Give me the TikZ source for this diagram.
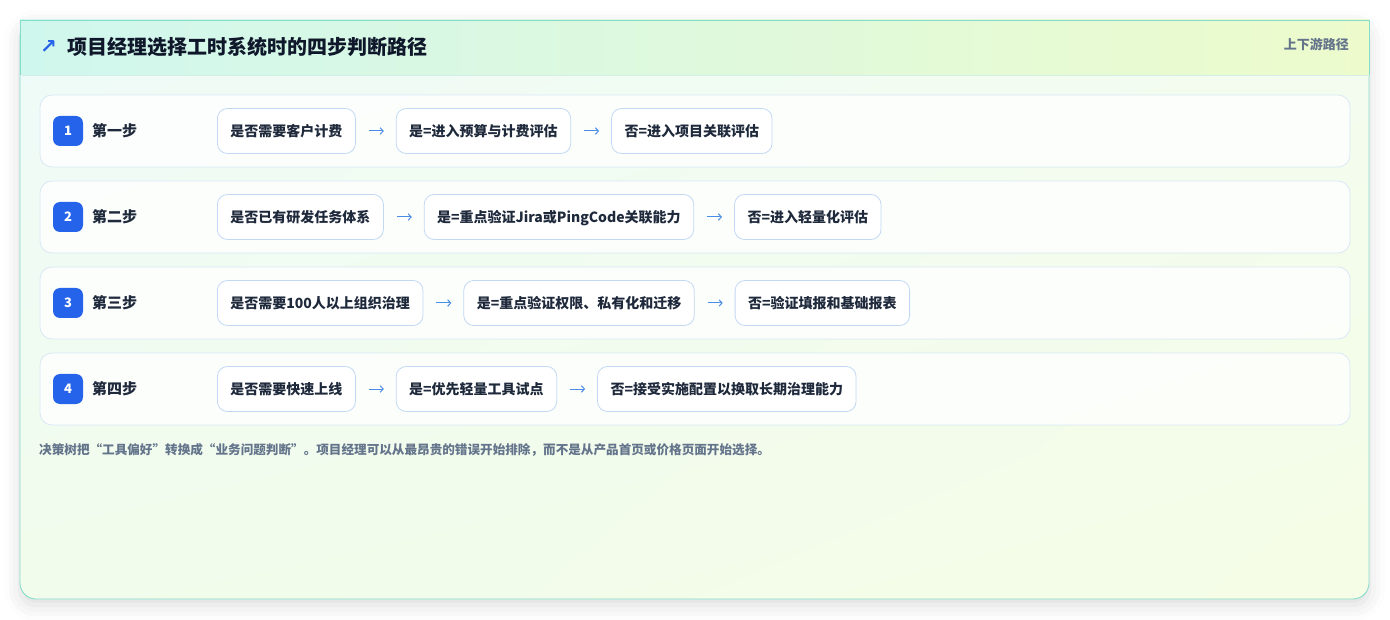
\documentclass[tikz,border=0pt]{standalone}
\usepackage{fontspec}
\setmainfont{Noto Sans CJK SC}
\newfontfamily\symfont{DejaVu Sans}
\usetikzlibrary{shadows.blur,positioning,arrows.meta,shadings}
\definecolor{cardborder}{HTML}{86DCCB}
\definecolor{hdrL}{HTML}{D0F7EE}
\definecolor{hdrR}{HTML}{EDFBCC}
\definecolor{bodyUL}{HTML}{EFFBF9}
\definecolor{bodyUR}{HTML}{F3FCEF}
\definecolor{bodyLL}{HTML}{F1FCEC}
\definecolor{bodyLR}{HTML}{F5FDE6}
\definecolor{sepline}{HTML}{D3EFE8}
\definecolor{rowborder}{HTML}{D9E8F4}
\definecolor{boxborder}{HTML}{C3D8F3}
\definecolor{badgeblue}{HTML}{2563EB}
\definecolor{arrowblue}{HTML}{4A8DE6}
\definecolor{darktext}{HTML}{0F172A}
\definecolor{boxtext}{HTML}{1E293B}
\definecolor{graytext}{HTML}{64748B}
\tikzset{
  rowcard/.style={draw=rowborder, line width=0.8pt, fill=white, fill opacity=0.8, rounded corners=12},
  badge/.style={fill=badgeblue, rounded corners=7, minimum width=30pt, minimum height=30pt, inner sep=0pt, text=white, font=\fontsize{13}{15}\selectfont\bfseries},
  steplabel/.style={anchor=west, inner sep=0pt, text=boxtext, font=\fontsize{15}{17}\selectfont\bfseries},
  qbox/.style={draw=boxborder, line width=0.8pt, fill=white, rounded corners=10, minimum height=45pt, inner xsep=13pt, inner ysep=0pt, text=boxtext, font=\fontsize{14}{16}\selectfont\bfseries, text height=12.5pt, text depth=1.5pt},
  flow/.style={draw=arrowblue, line width=1pt, -{Straight Barb[length=3pt,width=6.5pt]}, shorten <=13pt, shorten >=12pt}
}
\begin{document}
\begin{tikzpicture}[x=1pt,y=-1pt]
\useasboundingbox (0,0) rectangle (1390,620);
% card body with shadow
\path[rounded corners=16, blur shadow={shadow xshift=0pt, shadow yshift=-6pt, shadow blur radius=16pt, shadow opacity=14},
  left color=bodyUL, right color=bodyLR] (20,20) rectangle (1369,599);
\path[rounded corners=16, upper left=bodyUL, upper right=bodyUR, lower left=bodyLL, lower right=bodyLR] (20,20) rectangle (1369,599);
\draw[cardborder, line width=0.9pt, rounded corners=16] (20,20) rectangle (1369,599);
% header
\path[left color=hdrL, right color=hdrR] (20,20) rectangle (1369,75);
\draw[sepline, line width=0.8pt] (20,75) -- (1369,75);
\draw[cardborder, line width=0.9pt] (20,75) -- (20,20) -- (1369,20) -- (1369,75);
\node[anchor=west, inner sep=0pt, text=badgeblue, font=\symfont\fontsize{20}{22}\selectfont\bfseries] (ico) at (40,47) {↗};
\node[anchor=west, inner sep=0pt, text=darktext, font=\fontsize{20}{22}\selectfont\bfseries] (title) at (67,47) {项目经理选择工时系统时的四步判断路径};
\node[anchor=east, inner sep=0pt, text=graytext, font=\fontsize{13}{15}\selectfont\bfseries] (tag) at (1349,44) {上下游路径};
% rows
\foreach \yc in {131,217,303,389}{
  \path[rowcard] (40,\yc-36) rectangle (1350,\yc+36);
}
% row 1
\node[badge] (b1) at (68,131) {1};
\node[steplabel] (s1) at (92,131) {第一步};
\node[qbox, anchor=west] (r1a) at (217,131) {是否需要客户计费};
\node[qbox, right=40pt of r1a] (r1b) {是=进入预算与计费评估};
\node[qbox, right=40pt of r1b] (r1c) {否=进入项目关联评估};
\draw[flow] (r1a) -- (r1b);
\draw[flow] (r1b) -- (r1c);
% row 2
\node[badge] (b2) at (68,217) {2};
\node[steplabel] (s2) at (92,217) {第二步};
\node[qbox, anchor=west] (r2a) at (217,217) {是否已有研发任务体系};
\node[qbox, right=40pt of r2a] (r2b) {是=重点验证Jira或PingCode关联能力};
\node[qbox, right=40pt of r2b] (r2c) {否=进入轻量化评估};
\draw[flow] (r2a) -- (r2b);
\draw[flow] (r2b) -- (r2c);
% row 3
\node[badge] (b3) at (68,303) {3};
\node[steplabel] (s3) at (92,303) {第三步};
\node[qbox, anchor=west] (r3a) at (217,303) {是否需要100人以上组织治理};
\node[qbox, right=40pt of r3a] (r3b) {是=重点验证权限、私有化和迁移};
\node[qbox, right=40pt of r3b] (r3c) {否=验证填报和基础报表};
\draw[flow] (r3a) -- (r3b);
\draw[flow] (r3b) -- (r3c);
% row 4
\node[badge] (b4) at (68,389) {4};
\node[steplabel] (s4) at (92,389) {第四步};
\node[qbox, anchor=west] (r4a) at (217,389) {是否需要快速上线};
\node[qbox, right=40pt of r4a] (r4b) {是=优先轻量工具试点};
\node[qbox, right=40pt of r4b] (r4c) {否=接受实施配置以换取长期治理能力};
\draw[flow] (r4a) -- (r4b);
\draw[flow] (r4b) -- (r4c);
% footer
\node[anchor=west, inner sep=0pt, text=graytext, font=\fontsize{12.6}{15}\selectfont\bfseries] (foot) at (39,450) {决策树把“工具偏好”转换成“业务问题判断”。项目经理可以从最昂贵的错误开始排除，而不是从产品首页或价格页面开始选择。};
\end{tikzpicture}
\end{document}
